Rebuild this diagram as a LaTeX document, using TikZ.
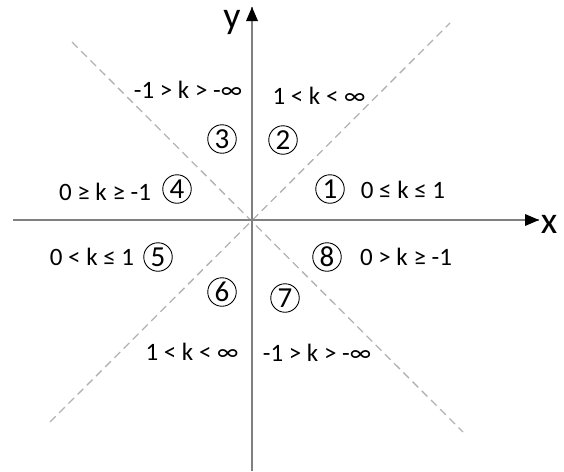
\documentclass[tikz,border=0pt]{standalone}
\usepackage{fontspec}
\setmainfont{Carlito}
\usetikzlibrary{arrows.meta}

\begin{document}
\begin{tikzpicture}[
  x=1pt,y=-1pt,
  font=\fontsize{25}{28}\selectfont,
  axis/.style={draw=black!50,line width=1.8pt},
  diag/.style={draw=black!30,line width=1.3pt,dash pattern=on 8pt off 5pt},
  lbl/.style={inner sep=0pt,anchor=center},
  circ/.style={circle,draw,line width=0.9pt,inner sep=0pt,minimum size=28.5pt,
               font=\fontsize{29}{30}\selectfont},
  axlbl/.style={inner sep=0pt,font=\fontsize{38}{40}\selectfont}]

\useasboundingbox (0,0) rectangle (564,471);

% axes
\coordinate (o) at (252,220);
\coordinate (xs) at (13,220);
\coordinate (xe) at (539,220);
\coordinate (ys) at (252,471);
\coordinate (ye) at (252,7);

% diagonals y = x and y = -x
\coordinate (nw) at (72,42);
\coordinate (se) at (463,432);
\coordinate (sw) at (50,422);
\coordinate (ne) at (450,23);
\draw[diag] (nw) -- (se);
\draw[diag] (sw) -- (ne);

\draw[axis] (xs) -- (xe);
\draw[axis] (ys) -- (ye);
\fill (xe) -- ++(-14,-6) -- ++(0,12) -- cycle;
\fill (ye) -- ++(-6,14) -- ++(12,0) -- cycle;

\node[axlbl] (xl) at (549,224) {x};
\node[axlbl] (yl) at (232,22) {y};

% octant numbers
\node[circ] (c1) at (330,189) {1};
\node[circ] (c2) at (283,140) {2};
\node[circ] (c3) at (222,139) {3};
\node[circ] (c4) at (177,189) {4};
\node[circ] (c5) at (158,257) {5};
\node[circ] (c6) at (222,292) {6};
\node[circ] (c7) at (285,298) {7};
\node[circ] (c8) at (327,257) {8};

% slope ranges
\node[lbl] (k1) at (403,190) {0 ≤ k ≤ 1};
\node[lbl] (k2) at (319,96) {1 < k < ∞};
\node[lbl] (k3) at (188,90) {-1 > k > -∞};
\node[lbl] (k4) at (105,192) {0 ≥ k ≥ -1};
\node[lbl] (k5) at (92,257) {0 < k ≤ 1};
\node[lbl] (k6) at (192,352) {1 < k < ∞};
\node[lbl] (k7) at (317,353) {-1 > k > -∞};
\node[lbl] (k8) at (406,257) {0 > k ≥ -1};
\end{tikzpicture}
\end{document}
